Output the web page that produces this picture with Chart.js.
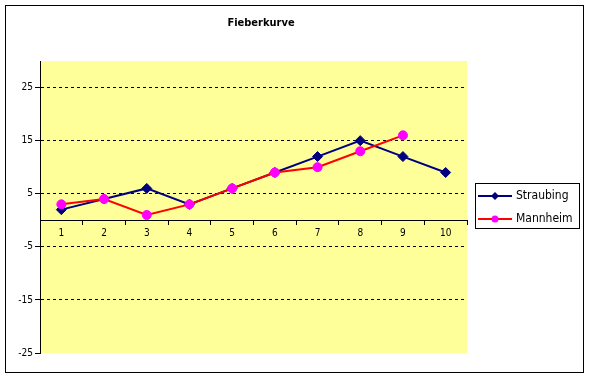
<!DOCTYPE html>
<html><head><meta charset="utf-8">
<script src="https://cdn.jsdelivr.net/npm/chart.js@4.4.0/dist/chart.umd.min.js"></script>
<style>html,body{margin:0;padding:0;background:#fff}canvas{display:block}</style>
</head><body>
<div style="width:589px;height:378px"><canvas id="c" width="589" height="378"></canvas></div>
<script>
const categories = ['1','2','3','4','5','6','7','8','9','10'];
const straubing = [2, 4, 6, 3, 6, 9, 12, 15, 12, 9];
const mannheim = [3, 4, 1, 3, 6, 9, 10, 13, 16, null];
const yTicks = [-25, -15, -5, 5, 15, 25];
const yMin = -25, yMax = 30;
const chartTitle = 'Fieberkurve';
const seriesNames = ['Straubing', 'Mannheim'];

const FONT = "'DejaVu Sans Condensed', 'DejaVu Sans', sans-serif";

const decor = {
  id: 'decor',
  beforeDraw(chart) {
    const {ctx, chartArea: a} = chart;
    ctx.save();
    ctx.fillStyle = '#fff';
    ctx.fillRect(0, 0, chart.width, chart.height);
    ctx.fillStyle = '#FFFF99';
    ctx.fillRect(a.left, a.top, a.right - a.left, a.bottom - a.top);
    ctx.restore();
  },
  afterDraw(chart) {
    const ctx = chart.ctx;
    ctx.save();
    ctx.strokeStyle = '#000';
    ctx.lineWidth = 1;
    ctx.strokeRect(5.5, 5.5, 578, 367);
    ctx.fillStyle = '#000';
    ctx.font = "bold 11px " + FONT;
    ctx.textAlign = 'center';
    ctx.textBaseline = 'middle';
    ctx.fillText(chartTitle, 261, 23);
    ctx.strokeRect(475.5, 183.5, 104, 45);
    const ys = [196, 219];
    chart.data.datasets.forEach((ds, i) => {
      const y = ys[i];
      ctx.strokeStyle = ds.borderColor;
      ctx.lineWidth = 2;
      ctx.beginPath();
      ctx.moveTo(478, y);
      ctx.lineTo(512, y);
      ctx.stroke();
      ctx.fillStyle = ds.pointBackgroundColor;
      ctx.beginPath();
      if (ds.pointStyle === 'rectRot') {
        const r = 4;
        ctx.moveTo(495, y - r); ctx.lineTo(495 + r, y); ctx.lineTo(495, y + r); ctx.lineTo(495 - r, y); ctx.closePath();
      } else {
        ctx.arc(495, y, 3.5, 0, Math.PI * 2);
      }
      ctx.fill();
      ctx.fillStyle = '#000';
      ctx.font = "12px " + FONT;
      ctx.textAlign = 'left';
      ctx.textBaseline = 'middle';
      ctx.fillText(ds.label, 516, y);
    });
    ctx.restore();
  }
};

new Chart(document.getElementById('c'), {
  type: 'line',
  data: {
    labels: categories,
    datasets: [
      {
        label: seriesNames[0], data: straubing, order: 1,
        borderColor: '#000080', backgroundColor: '#000080',
        pointBackgroundColor: '#000080', pointBorderColor: '#000080',
        pointStyle: 'rectRot', pointRadius: 5, borderWidth: 2, pointBorderWidth: 1,
        tension: 0, fill: false
      },
      {
        label: seriesNames[1], data: mannheim, order: 0,
        borderColor: '#FF0000', backgroundColor: '#FF00FF',
        pointBackgroundColor: '#FF00FF', pointBorderColor: '#FF00FF',
        pointStyle: 'circle', pointRadius: 4.5, borderWidth: 2, pointBorderWidth: 1,
        tension: 0, fill: false
      }
    ]
  },
  options: {
    responsive: false,
    devicePixelRatio: 1,
    animation: false,
    layout: { padding: { left: 0, top: 61, right: 122, bottom: 25 } },
    plugins: { legend: { display: false }, title: { display: false }, tooltip: { enabled: false } },
    scales: {
      x: {
        type: 'category',
        position: { y: 0 },
        offset: true,
        afterFit(s) { s.height = 0; },
        border: { display: true, color: '#000', width: 1 },
        grid: { offset: true, drawOnChartArea: false, drawTicks: true, tickLength: 4, tickColor: '#000' },
        ticks: { color: '#000', font: { family: FONT, size: 10 }, padding: 3, maxRotation: 0, autoSkip: false }
      },
      y: {
        min: yMin, max: yMax,
        afterFit(s) { s.width = 40; },
        afterBuildTicks(s) { s.ticks = yTicks.map(v => ({ value: v })); },
        border: { display: true, color: '#000', width: 1, dash: [3, 3] },
        grid: {
          color: c => (c.tick && c.tick.value === yMin) ? 'rgba(0,0,0,0)' : '#000',
          tickColor: '#000', tickBorderDash: [1, 0], tickLength: 5, lineWidth: 1
        },
        ticks: { color: '#000', font: { family: FONT, size: 10 }, padding: 2 }
      }
    }
  },
  plugins: [decor]
});
</script>
</body></html>
